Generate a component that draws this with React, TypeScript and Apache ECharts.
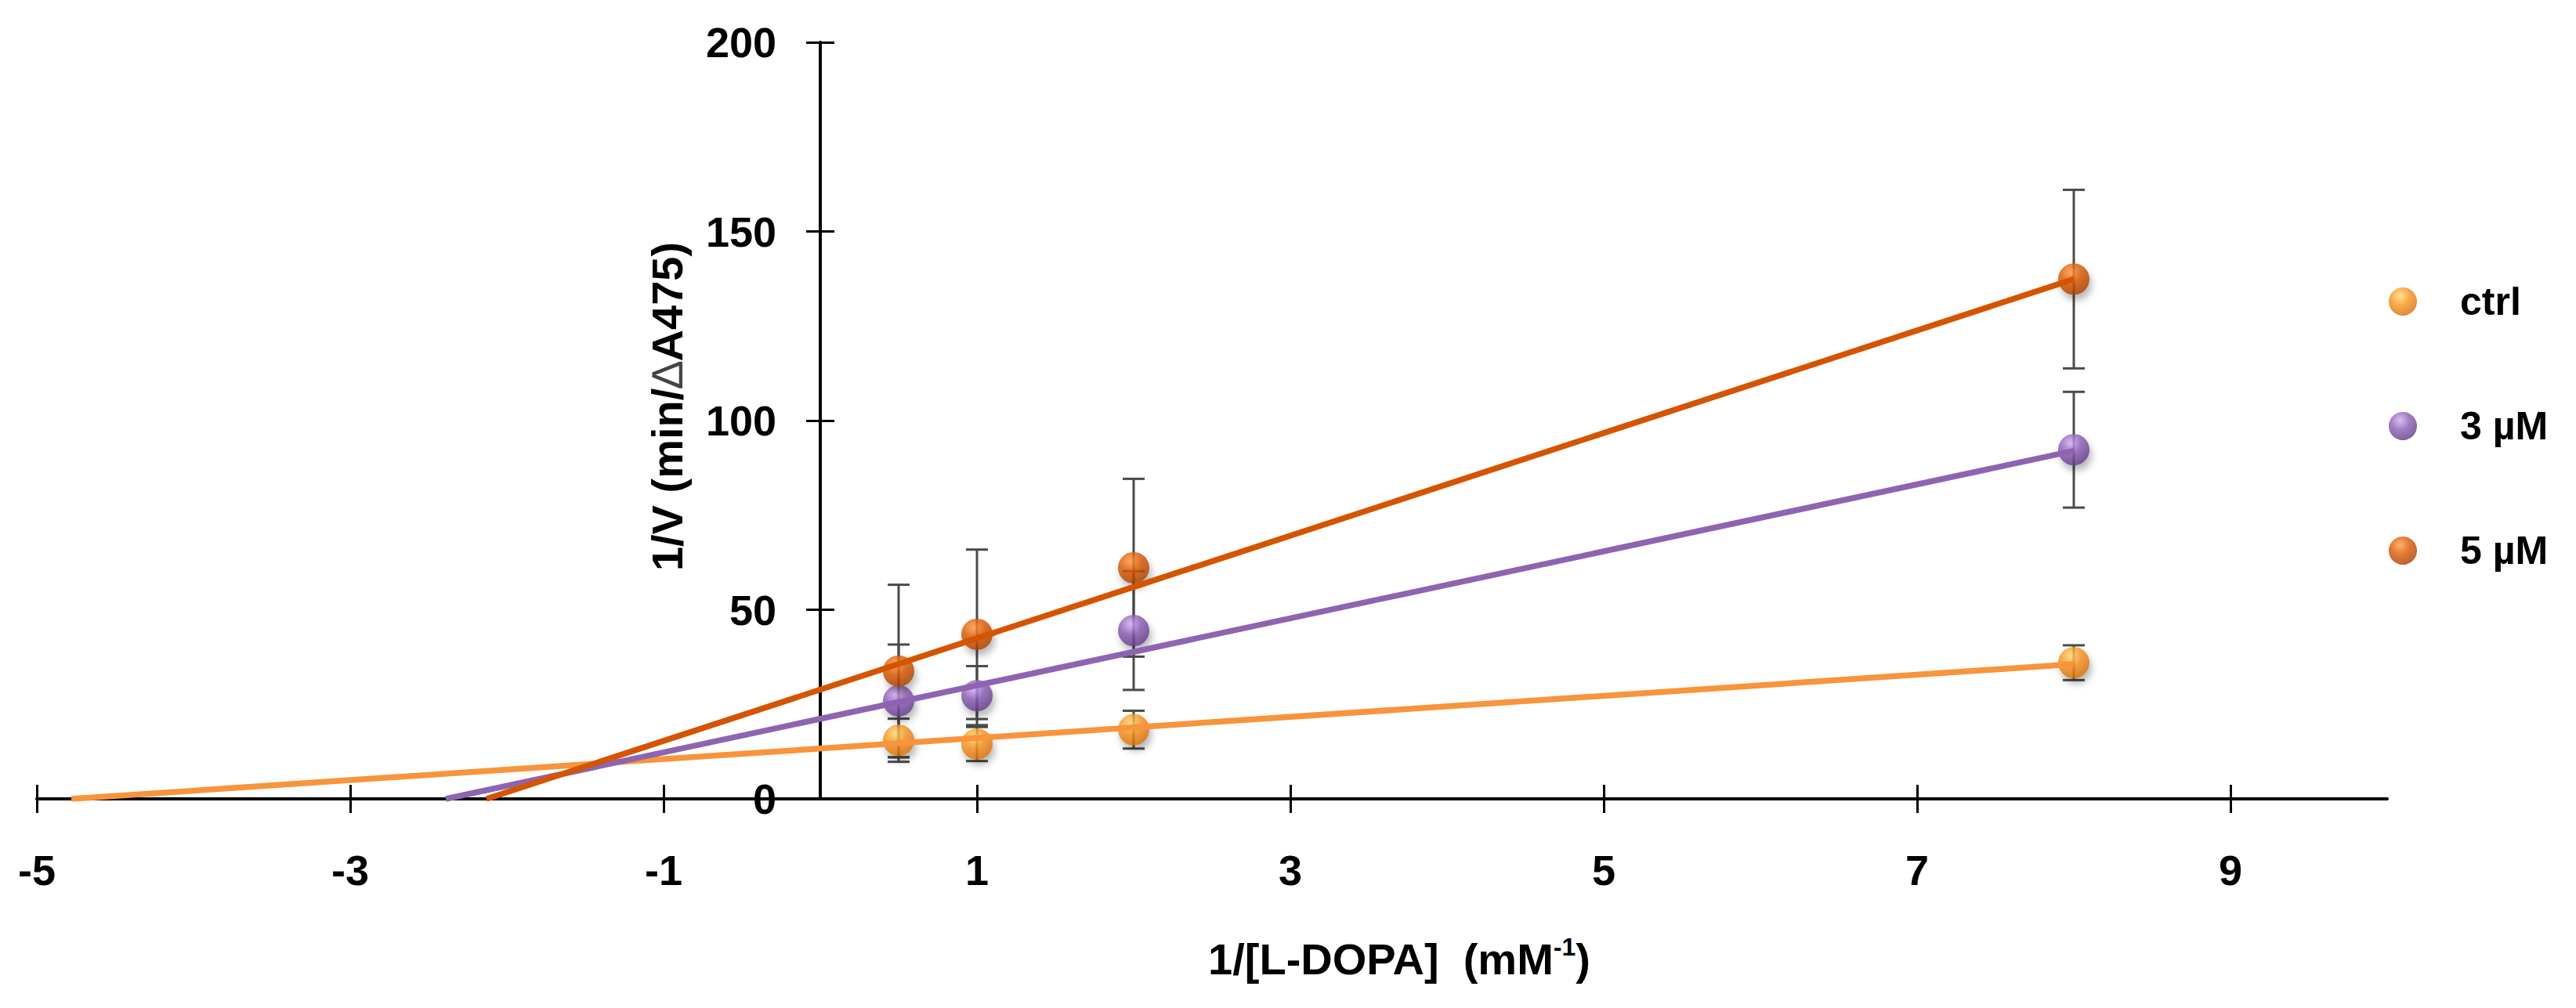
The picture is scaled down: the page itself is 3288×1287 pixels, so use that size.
import React, { useEffect, useRef } from "react";
import * as echarts from "echarts";

// ---- data ----
const xValues = [0.5, 1, 2, 8];

const ctrlMean = [15.5, 14.5, 18.3, 36.0];
const ctrlErr = [5.7, 4.5, 5.0, 4.6];
const uM3Mean = [25.9, 27.3, 44.5, 92.3];
const uM3Err = [14.9, 7.8, 15.7, 15.3];
const uM5Mean = [33.8, 43.5, 61.1, 137.4];
const uM5Err = [22.8, 22.4, 23.5, 23.6];

// regression lines (x-intercept to last point)
const ctrlFitX = [-4.78, 8];
const ctrlFitY = [0, 35.6];
const uM3FitX = [-2.39, 8];
const uM3FitY = [0, 92.0];
const uM5FitX = [-2.13, 8];
const uM5FitY = [0, 137.4];

const seriesNames = ["ctrl", "3 µM", "5 µM"];

const xMin = -5;
const xMax = 10;
const xTicks = [-5, -3, -1, 1, 3, 5, 7, 9];
const yMin = 0;
const yMax = 200;
const yTicks = [0, 50, 100, 150, 200];

const FONT = "'Liberation Sans', Arial, Helvetica, sans-serif";

const CHART_W = 3288;
const CHART_H = 1287;
const GRID = { left: 47, right: 241, top: 54, bottom: 267 };

function sphere(hi: string, base: string, dark: string) {
  return new echarts.graphic.RadialGradient(0.4, 0.3, 0.75, [
    { offset: 0, color: hi },
    { offset: 0.45, color: base },
    { offset: 1, color: dark },
  ]);
}

const lineColors = ["#F8943C", "#8E64B2", "#D55400"];

export default function App() {
  const ref = useRef<HTMLDivElement>(null);

  useEffect(() => {
    if (!ref.current) return;
    const chart = echarts.init(ref.current, undefined, { renderer: "svg" });

    const groups = [
      { name: seriesNames[0], mean: ctrlMean, err: ctrlErr, fx: ctrlFitX, fy: ctrlFitY, fill: sphere("#FFDA70", "#F7931E", "#D46A08") },
      { name: seriesNames[1], mean: uM3Mean, err: uM3Err, fx: uM3FitX, fy: uM3FitY, fill: sphere("#D6AEF8", "#8B5CB4", "#5A3882") },
      { name: seriesNames[2], mean: uM5Mean, err: uM5Err, fx: uM5FitX, fy: uM5FitY, fill: sphere("#FF9C45", "#DB5800", "#A03C00") },
    ];

    const series: any[] = [];
    groups.forEach((g, gi) => {
      series.push({
        type: "custom",
        name: g.name + " err",
        coordinateSystem: "cartesian2d",
        xAxisIndex: 0,
        yAxisIndex: 0,
        z: 3,
        clip: false,
        encode: { x: 0, y: 1 },
        data: xValues.map((x, i) => [x, g.mean[i], g.err[i]]),
        renderItem: (params: any, api: any) => {
          const x = api.value(0);
          const y = api.value(1);
          const e = api.value(2);
          const top = api.coord([x, y + e]);
          const bot = api.coord([x, y - e]);
          const hw = 14;
          const st = { stroke: "#4a4a4a", lineWidth: 3 };
          return {
            type: "group",
            children: [
              { type: "line", shape: { x1: top[0], y1: top[1], x2: bot[0], y2: bot[1] }, style: st },
              { type: "line", shape: { x1: top[0] - hw, y1: top[1], x2: top[0] + hw, y2: top[1] }, style: st },
              { type: "line", shape: { x1: bot[0] - hw, y1: bot[1], x2: bot[0] + hw, y2: bot[1] }, style: st },
            ],
          };
        },
      });
      series.push({
        type: "scatter",
        name: g.name,
        z: 4,
        symbol: "circle",
        symbolSize: 40,
        data: xValues.map((x, i) => [x, g.mean[i]]),
        itemStyle: {
          color: g.fill,
          shadowBlur: 10,
          shadowOffsetX: 3,
          shadowOffsetY: 7,
          shadowColor: "rgba(0,0,0,0.35)",
        },
      });
      series.push({
        type: "line",
        name: g.name + " fit",
        z: 5,
        symbol: "none",
        data: g.fx.map((x, i) => [x, g.fy[i]]),
        lineStyle: { color: lineColors[gi], width: 7.5 },
        itemStyle: { color: lineColors[gi] },
      });
    });

    const axisLineStyle = { color: "#000", width: 4 };
    const tickStyle = { color: "#000", width: 3 };

    // y axis sits at x = 0: shift it inwards from the grid's left edge
    const plotW = CHART_W - GRID.left - GRID.right;
    const yAxisOffset = -((0 - xMin) / (xMax - xMin)) * plotW;

    chart.setOption({
      animation: false,
      backgroundColor: "#ffffff",
      grid: {
        left: GRID.left,
        right: GRID.right,
        top: GRID.top,
        bottom: GRID.bottom,
        containLabel: false,
        outerBoundsMode: "none",
      },
      legend: {
        show: true,
        data: seriesNames,
        orient: "vertical",
        left: 3044,
        top: 355,
        icon: "circle",
        itemWidth: 36,
        itemHeight: 36,
        itemGap: 109,
        textStyle: {
          fontSize: 50,
          fontWeight: "bold",
          color: "#000",
          fontFamily: FONT,
          lineHeight: 50,
          padding: [0, 0, 0, 50],
        },
      },
      xAxis: [
        {
          type: "value",
          min: xMin,
          max: xMax,
          position: "bottom",
          axisLine: { show: true, onZero: false, lineStyle: axisLineStyle },
          axisTick: { show: true, inside: false, length: 18, lineStyle: tickStyle, customValues: xTicks },
          axisLabel: {
            show: true,
            margin: 64,
            fontSize: 54,
            fontWeight: "bold",
            color: "#000",
            fontFamily: FONT,
            customValues: xTicks,
          },
          splitLine: { show: false },
        },
        {
          type: "value",
          min: xMin,
          max: xMax,
          position: "bottom",
          axisLine: { show: false, onZero: false },
          axisTick: { show: true, inside: true, length: 18, lineStyle: tickStyle, customValues: xTicks },
          axisLabel: { show: false },
          splitLine: { show: false },
        },
      ],
      yAxis: [
        {
          type: "value",
          min: yMin,
          max: yMax,
          position: "left",
          offset: yAxisOffset,
          axisLine: { show: true, onZero: false, lineStyle: axisLineStyle },
          axisTick: { show: true, inside: false, length: 18, lineStyle: tickStyle, customValues: yTicks },
          axisLabel: {
            show: true,
            margin: 56,
            fontSize: 54,
            fontWeight: "bold",
            color: "#000",
            fontFamily: FONT,
            customValues: yTicks,
          },
          splitLine: { show: false },
        },
        {
          type: "value",
          min: yMin,
          max: yMax,
          position: "left",
          offset: yAxisOffset,
          axisLine: { show: false, onZero: false },
          axisTick: { show: true, inside: true, length: 18, lineStyle: tickStyle, customValues: yTicks },
          axisLabel: { show: false },
          splitLine: { show: false },
        },
      ],
      graphic: [
        {
          type: "text",
          x: 851,
          y: 519,
          rotation: Math.PI / 2,
          style: {
            text: "{b|1/V (min/}{d|∆}{b|A475)}",
            align: "center",
            verticalAlign: "middle",
            rich: {
              b: { fontSize: 56, fontWeight: "bold", fontFamily: FONT, fill: "#000", color: "#000" },
              d: { fontSize: 56, fontWeight: "normal", fontFamily: FONT, fill: "#444", color: "#444" },
            },
          },
        },
        {
          type: "text",
          x: 1786,
          y: 1224,
          style: {
            text: "{b|1/[L-DOPA]  (mM}{s|-1}{b|)}",
            align: "center",
            verticalAlign: "middle",
            rich: {
              b: { fontSize: 56, fontWeight: "bold", fontFamily: FONT, fill: "#000", color: "#000", lineHeight: 62 },
              s: { fontSize: 32, fontWeight: "bold", fontFamily: FONT, fill: "#000", color: "#000", lineHeight: 40, verticalAlign: "top" },
            },
          },
        },
      ],
      series,
    });

    return () => {
      chart.dispose();
    };
  }, []);

  return (
    <div
      ref={ref}
      style={{ position: "fixed", left: 0, top: 0, width: CHART_W, height: CHART_H, background: "#fff" }}
    />
  );
}
